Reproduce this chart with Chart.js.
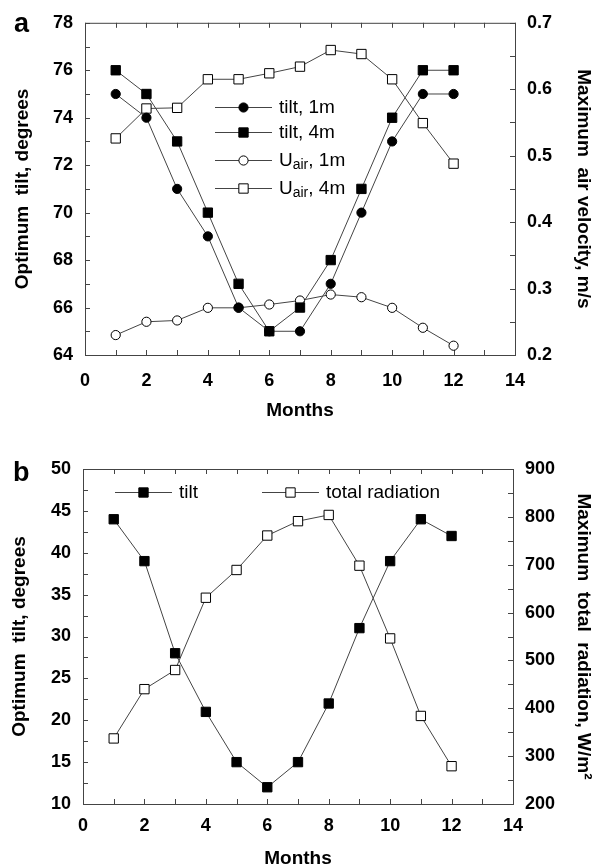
<!DOCTYPE html>
<html>
<head>
<meta charset="utf-8">
<script src="https://cdn.jsdelivr.net/npm/chart.js@4.4.0/dist/chart.umd.min.js"></script>
<style>
body { margin:0; background:#fff; width:595px; height:866px; position:relative; overflow:hidden; font-family:Arial, "Liberation Sans", sans-serif; }
canvas { position:absolute; left:0; }
#chartA { top:0; }
#chartB { top:430px; }
.panel { position:absolute; font-weight:bold; font-size:27px; line-height:27px; color:#000; }
</style>
</head>
<body>
<canvas id="chartA" width="595" height="430"></canvas>
<canvas id="chartB" width="595" height="436"></canvas>
<div class="panel" style="left:14px;top:10px">a</div>
<div class="panel" style="left:13px;top:459px">b</div>
<script>
// values
var months = [1, 2, 3, 4, 5, 6, 7, 8, 9, 10, 11, 12];
var tilt1m = [75, 74, 71, 69, 66, 65, 65, 67, 70, 73, 75, 75];
var tilt4m = [76, 75, 73, 70, 67, 65, 66, 68, 71, 74, 76, 76];
var uair1m = [0.230, 0.250, 0.252, 0.271, 0.271, 0.276, 0.282, 0.291, 0.287, 0.271, 0.241, 0.214];
var uair4m = [0.526, 0.571, 0.572, 0.615, 0.615, 0.624, 0.634, 0.659, 0.653, 0.615, 0.549, 0.488];
var tiltB = [44, 39, 28, 21, 15, 12, 15, 22, 31, 39, 44, 42];
var radiation = [337, 440, 480, 631, 689, 761, 791, 804, 698, 546, 384, 279];

var FONT = 'Arial, "Liberation Sans", sans-serif';
var LINE = '#444';

function series(label, values, axis, style, filled) {
  return {
    label: label,
    data: months.map(function (m, i) { return { x: m, y: values[i] }; }),
    yAxisID: axis,
    borderColor: LINE,
    borderWidth: 1,
    pointStyle: style,
    pointRadius: style == 'rect' ? 6.6 : 4.6,
    pointBackgroundColor: filled ? '#000' : '#fff',
    pointBorderColor: '#000',
    pointBorderWidth: 1,
    tension: 0
  };
}

function marker(ctx, ds, x, y) {
  ctx.beginPath();
  if (ds.pointStyle == 'rect') {
    var h = ds.pointRadius * Math.SQRT1_2;
    ctx.rect(x - h, y - h, 2 * h, 2 * h);
  } else {
    ctx.arc(x, y, ds.pointRadius, 0, Math.PI * 2);
  }
  ctx.fillStyle = ds.pointBackgroundColor;
  ctx.fill();
  ctx.lineWidth = 1;
  ctx.strokeStyle = ds.pointBorderColor;
  ctx.stroke();
}

// frame round the plot + inward tick marks taken from the scales
var frameTicks = {
  id: 'frameTicks',
  beforeDatasetsDraw: function (chart, args, opts) {
    var ctx = chart.ctx, a = chart.chartArea, len = 5;
    ctx.save();
    ctx.strokeStyle = '#444';
    ctx.lineWidth = 1;
    ctx.strokeRect(a.left + 0.5, a.top + 0.5, a.right - a.left, a.bottom - a.top);
    ctx.beginPath();
    var sx = chart.scales.x;
    for (var v = sx.min; v <= sx.max + 1e-9; v += opts.x) {
      var px = Math.round(sx.getPixelForValue(v)) + 0.5;
      ctx.moveTo(px, a.bottom); ctx.lineTo(px, a.bottom - len);
      ctx.moveTo(px, a.top); ctx.lineTo(px, a.top + len);
    }
    var sy = chart.scales.y;
    for (var v = sy.min; v <= sy.max + 1e-9; v += opts.y) {
      var py = Math.round(sy.getPixelForValue(v)) + 0.5;
      ctx.moveTo(a.left, py); ctx.lineTo(a.left + len, py);
    }
    var sr = chart.scales.y1;
    for (var v = sr.min; v <= sr.max + 1e-9; v += opts.y1) {
      var py = Math.round(sr.getPixelForValue(v)) + 0.5;
      ctx.moveTo(a.right, py); ctx.lineTo(a.right - len, py);
    }
    ctx.stroke();
    ctx.restore();
  }
};

// key drawn inside the plot, label "U_{air}" gets a subscript
var seriesKey = {
  id: 'seriesKey',
  afterDatasetsDraw: function (chart, args, opts) {
    var ctx = chart.ctx;
    ctx.save();
    opts.items.forEach(function (it) {
      var ds = chart.data.datasets[it.index];
      ctx.strokeStyle = LINE;
      ctx.lineWidth = 1;
      ctx.beginPath();
      ctx.moveTo(it.x, it.y + 0.5); ctx.lineTo(it.x + opts.lineLen, it.y + 0.5);
      ctx.stroke();
      marker(ctx, ds, it.x + opts.lineLen / 2, it.y + 0.5);
      ctx.fillStyle = '#000';
      ctx.textBaseline = 'middle';
      var tx = it.x + opts.lineLen + opts.gap;
      var parts = ds.label.split(/_\{|\}/);
      parts.forEach(function (p, k) {
        var sub = k % 2 == 1;
        ctx.font = (sub ? 14 : 19) + 'px ' + FONT;
        ctx.fillText(p, tx, it.y + (sub ? 5 : 1));
        tx += ctx.measureText(p).width;
      });
    });
    ctx.restore();
  }
};

function axisFont(size) { return { family: FONT, size: size, weight: 'bold' }; }

function makeChart(id, datasets, cfg) {
  return new Chart(document.getElementById(id), {
    type: 'line',
    data: { datasets: datasets },
    plugins: [frameTicks, seriesKey],
    options: {
      responsive: false,
      animation: false,
      layout: { padding: { top: cfg.top, left: 0, right: 0, bottom: 0 } },
      plugins: {
        legend: { display: false },
        tooltip: { enabled: false },
        frameTicks: cfg.minor,
        seriesKey: cfg.key
      },
      scales: {
        x: {
          type: 'linear', min: 0, max: 14,
          ticks: { stepSize: 2, padding: cfg.xPad, color: '#000', font: axisFont(18), maxRotation: 0 },
          grid: { display: false, drawTicks: false },
          border: { display: false },
          title: { display: true, text: 'Months', color: '#000', font: axisFont(19), padding: { top: 0, bottom: cfg.titlePad } },
          afterFit: function (s) { s.height = cfg.xH; }
        },
        y: {
          position: 'left', min: cfg.yMin, max: cfg.yMax,
          ticks: { stepSize: cfg.yStep, padding: 12, color: '#000', font: axisFont(18) },
          grid: { display: false, drawTicks: false },
          border: { display: false },
          title: { display: true, text: 'Optimum  tilt, degrees', color: '#000', font: axisFont(19), padding: { top: cfg.leftTitle, bottom: 0 } },
          afterFit: function (s) { s.width = cfg.left; }
        },
        y1: {
          position: 'right', min: cfg.rMin, max: cfg.rMax,
          ticks: { stepSize: cfg.rStep, padding: 12, color: '#000', font: axisFont(18), callback: cfg.rFmt },
          grid: { display: false, drawTicks: false },
          border: { display: false },
          title: { display: true, text: cfg.rTitle, color: '#000', font: axisFont(19), padding: { top: 0, bottom: 0 } },
          afterFit: function (s) { s.width = 595 - cfg.right; }
        }
      }
    }
  });
}

makeChart('chartA', [
  series('tilt, 1m', tilt1m, 'y', 'circle', true),
  series('tilt, 4m', tilt4m, 'y', 'rect', true),
  series('U_{air}, 1m', uair1m, 'y1', 'circle', false),
  series('U_{air}, 4m', uair4m, 'y1', 'rect', false)
], {
  top: 20, xH: 75, xPad: 15, titlePad: 8, left: 85, right: 515,
  yMin: 64, yMax: 78, yStep: 2,
  rMin: 0.2, rMax: 0.7, rStep: 0.1,
  rFmt: function (v) { return v.toFixed(1); },
  rTitle: 'Maximum  air velocity, m/s',
  leftTitle: 11,
  minor: { x: 1, y: 1, y1: 0.05 },
  key: {
    lineLen: 57, gap: 7,
    items: [
      { index: 0, x: 215, y: 107 },
      { index: 1, x: 215, y: 132 },
      { index: 2, x: 215, y: 160 },
      { index: 3, x: 215, y: 188 }
    ]
  }
});

makeChart('chartB', [
  series('tilt', tiltB, 'y', 'rect', true),
  series('total radiation', radiation, 'y1', 'rect', false)
], {
  top: 39, xH: 62, xPad: 11, titlePad: -4, left: 83, right: 513,
  yMin: 10, yMax: 50, yStep: 5,
  rMin: 200, rMax: 900, rStep: 100,
  rFmt: function (v) { return v; },
  rTitle: 'Maximum  total  radiation, W/m\u00B2',
  leftTitle: 8,
  minor: { x: 1, y: 2.5, y1: 50 },
  key: {
    lineLen: 57, gap: 7,
    items: [
      { index: 0, x: 115, y: 62 },
      { index: 1, x: 262, y: 62 }
    ]
  }
});
</script>
</body>
</html>
